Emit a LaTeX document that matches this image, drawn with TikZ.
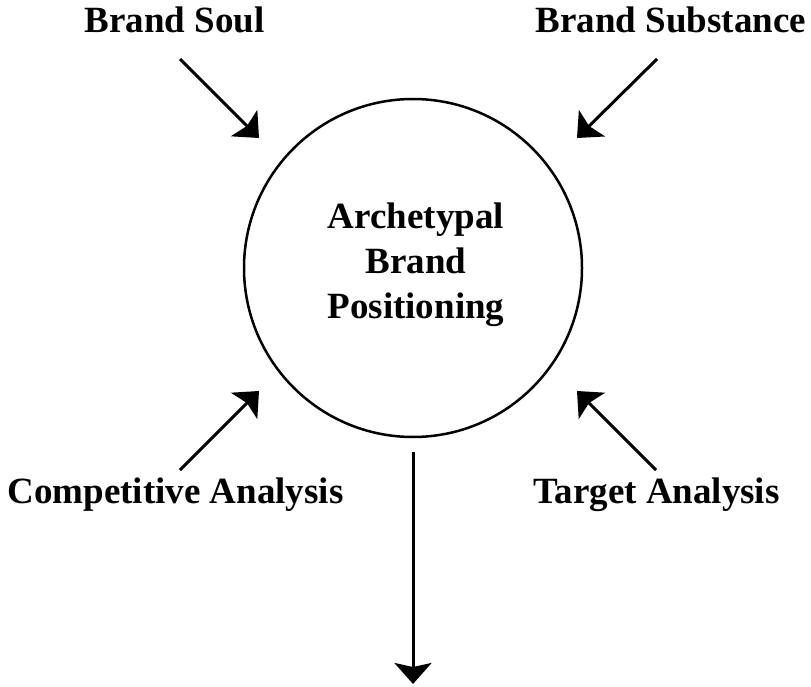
\documentclass[tikz,border=0pt]{standalone}
\usepackage{fontspec}
\setmainfont{Liberation Serif}
\usetikzlibrary{arrows.meta}
\begin{document}
\begin{tikzpicture}[x=1pt,y=-1pt,
  lbl/.style={font=\fontsize{37}{45}\selectfont\bfseries, inner sep=0pt, anchor=base},
  arr/.style={line width=3pt, -{Stealth[length=21pt,width=37pt,inset=4pt]}},
  ring/.style={circle, draw, line width=2.5pt, minimum size=338pt, inner sep=0pt}]
\useasboundingbox (0,0) rectangle (811,687);
\node[ring] (pos) at (413,268) {};
\node[font=\fontsize{37}{45}\selectfont\bfseries, align=center, inner sep=0pt] (txt) at (416,265) {Archetypal\\Brand\\Positioning};
\node[lbl] (soul) at (174.5,33) {Brand Soul};
\node[lbl] (subst) at (671,33) {Brand Substance};
\node[lbl] (comp) at (175.5,503) {Competitive Analysis};
\node[lbl] (targ) at (656.5,503) {Target Analysis};
\coordinate (a1) at (180,59);  \coordinate (b1) at (259,138);
\coordinate (a2) at (657,59);  \coordinate (b2) at (577,138);
\coordinate (a3) at (180,470); \coordinate (b3) at (259,391);
\coordinate (a4) at (656,470); \coordinate (b4) at (577,391);
\coordinate (a5) at (413,452); \coordinate (b5) at (413,684);
\draw[arr] (a1) -- (b1);
\draw[arr] (a2) -- (b2);
\draw[arr] (a3) -- (b3);
\draw[arr] (a4) -- (b4);
\draw[arr] (a5) -- (b5);
\end{tikzpicture}
\end{document}
